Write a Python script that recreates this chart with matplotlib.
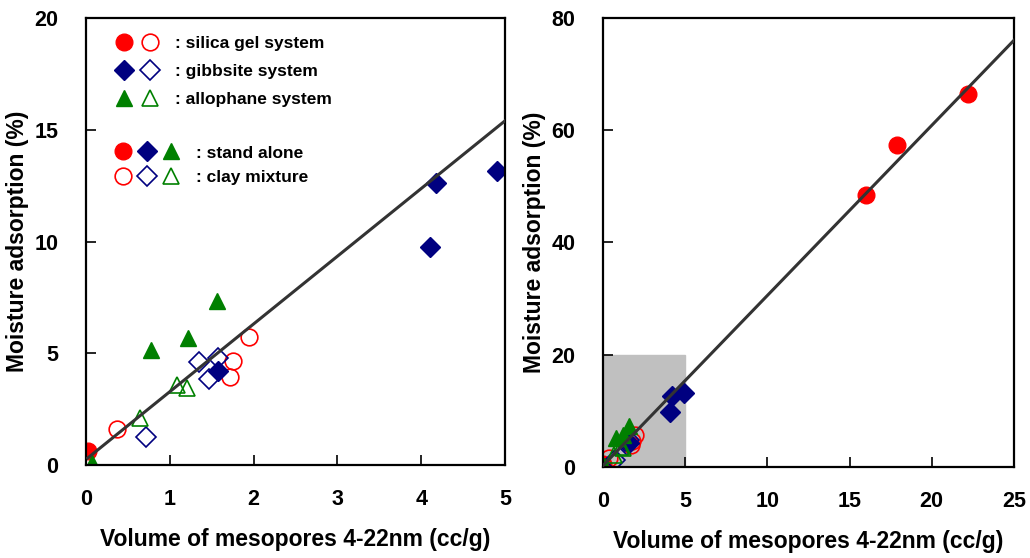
import numpy as np
import matplotlib.pyplot as plt
from matplotlib.lines import Line2D
from matplotlib.legend_handler import HandlerTuple

plt.rcParams['font.family'] = ['Liberation Sans', 'DejaVu Sans']
plt.rcParams['font.weight'] = 'bold'

# silica gel system
silica_stand_x = [0.02, 16.0, 17.9, 22.2]
silica_stand_y = [0.63, 48.5, 57.4, 66.5]
silica_mix_x = [0.37, 1.72, 1.76, 1.95]
silica_mix_y = [1.62, 3.94, 4.65, 5.73]

# gibbsite system
gibb_stand_x = [1.57, 4.10, 4.18, 4.90]
gibb_stand_y = [4.20, 9.75, 12.6, 13.15]
gibb_mix_x = [0.72, 1.35, 1.47, 1.58]
gibb_mix_y = [1.25, 4.60, 3.85, 4.80]

# allophane system
allo_stand_x = [0.07, 0.78, 1.22, 1.56]
allo_stand_y = [0.10, 5.15, 5.70, 7.35]
allo_mix_x = [0.65, 1.08, 1.21]
allo_mix_y = [2.10, 3.60, 3.45]

# fitted line
fit_slope = 3.03
fit_icpt = 0.25

red = '#ff0000'
blue = '#000080'
green = '#008000'

fig = plt.figure(figsize=(10.3, 5.58), dpi=100)
ax1 = fig.add_axes([0.0835, 0.1667, 0.4068, 0.801])
ax2 = fig.add_axes([0.5854, 0.163, 0.399, 0.805])


def draw(ax, xmax):
    ms_c, ms_d, ms_t = 12, 10.5, 12
    ax.plot(silica_stand_x, silica_stand_y, 'o', color=red, ms=ms_c, ls='none')
    ax.plot(silica_mix_x, silica_mix_y, 'o', mfc='none', mec=red, mew=1.2, ms=ms_c, ls='none')
    ax.plot(gibb_stand_x, gibb_stand_y, 'D', color=blue, ms=ms_d, ls='none')
    ax.plot(gibb_mix_x, gibb_mix_y, 'D', mfc='none', mec=blue, mew=1.2, ms=ms_d, ls='none')
    ax.plot(allo_stand_x, allo_stand_y, '^', color=green, ms=ms_t, ls='none')
    ax.plot(allo_mix_x, allo_mix_y, '^', mfc='none', mec=green, mew=1.2, ms=ms_t, ls='none')
    xs = np.array([0.02, xmax * 1.05])
    ax.plot(xs, fit_slope * xs + fit_icpt, color='#333333', lw=2.2, zorder=5)
    for s in ax.spines.values():
        s.set_linewidth(1.6)
    ax.tick_params(direction='in', length=7, width=1.2, labelsize=15.5)
    ax.tick_params(axis='x', pad=17)
    ax.tick_params(axis='y', pad=20)
    ax.set_xlabel('Volume of mesopores 4-22nm (cc/g)', fontsize=16.5, fontweight='bold', labelpad=13)
    ax.set_ylabel('Moisture adsorption (%)', fontsize=16.5, fontweight='bold', labelpad=4)


draw(ax1, 5)
ax1.set_xlim(0, 5)
ax1.set_ylim(0, 20)
ax1.set_xticks([0, 1, 2, 3, 4, 5])
ax1.set_yticks([0, 5, 10, 15, 20])

draw(ax2, 25)
ax2.add_patch(plt.Rectangle((0, 0), 5, 20, color='#c0c0c0', zorder=0))
ax2.set_xlim(0, 25)
ax2.set_ylim(0, 80)
ax2.set_xticks([0, 5, 10, 15, 20, 25])
ax2.set_yticks([0, 20, 40, 60, 80])
for ax in (ax1, ax2):
    for lab in ax.get_xticklabels() + ax.get_yticklabels():
        lab.set_fontweight('bold')


def mk(m, c, filled, ms):
    if filled:
        return Line2D([], [], marker=m, color=c, ms=ms, ls='none')
    return Line2D([], [], marker=m, mfc='none', mec=c, mew=1.2, ms=ms, ls='none')


h1 = [(mk('o', red, True, 12), mk('o', red, False, 12)),
      (mk('D', blue, True, 10), mk('D', blue, False, 10)),
      (mk('^', green, True, 12), mk('^', green, False, 12))]
l1 = [': silica gel system', ': gibbsite system', ': allophane system']
leg1 = ax1.legend(h1, l1, handler_map={tuple: HandlerTuple(ndivide=None, pad=0.4)},
                  loc='upper left', bbox_to_anchor=(0.03, 0.995), frameon=False,
                  handlelength=2.6, handletextpad=0.9, labelspacing=0.75,
                  prop={'size': 12.5, 'weight': 'bold'})
ax1.add_artist(leg1)

h2 = [(mk('o', red, True, 12), mk('D', blue, True, 10), mk('^', green, True, 12)),
      (mk('o', red, False, 12), mk('D', blue, False, 10), mk('^', green, False, 12))]
l2 = [': stand alone', ': clay mixture']
ax1.legend(h2, l2, handler_map={tuple: HandlerTuple(ndivide=None, pad=0.3)},
           loc='upper left', bbox_to_anchor=(0.03, 0.75), frameon=False,
           handlelength=3.8, handletextpad=0.9, labelspacing=0.55,
           prop={'size': 12.5, 'weight': 'bold'})

fig.savefig('out.png', dpi=100)
